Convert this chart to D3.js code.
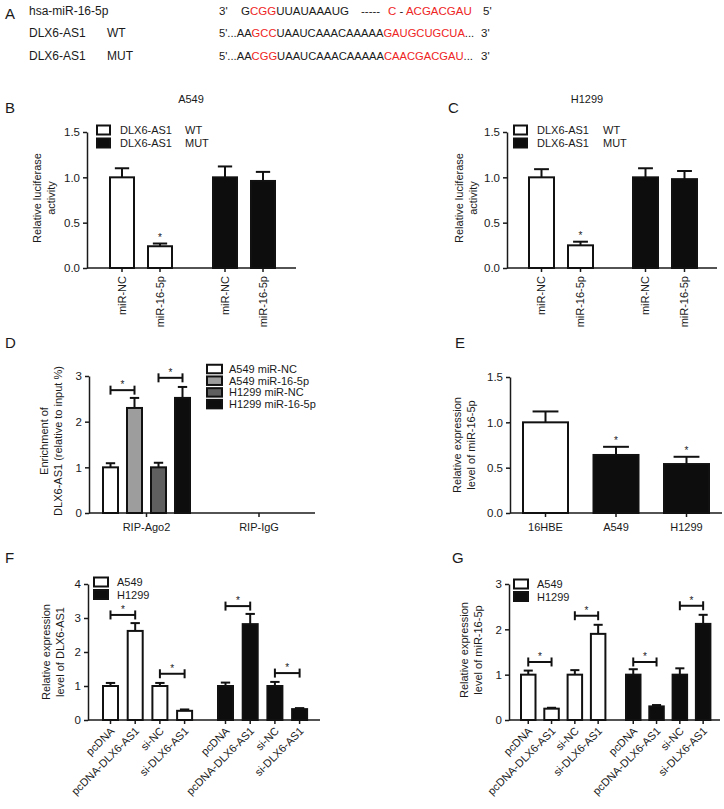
<!DOCTYPE html>
<html>
<head>
<meta charset="utf-8">
<script src="https://cdn.jsdelivr.net/npm/d3@7"></script>
<style>
body { margin: 0; background: #fff; }
text { font-family: 'Liberation Sans', Arial, Helvetica, sans-serif; fill: #1a1a1a; }
</style>
</head>
<body>
<div id="fig"></div>
<script>
const W = 724, H = 809;
const RED = "#ee2424";

// ---- panel A: sequences (pieces of [text, isRed]) ----
const aNames = [["hsa-miR-16-5p", ""], ["DLX6-AS1", "WT"], ["DLX6-AS1", "MUT"]];
const mirLeft = [["G", 0], ["CGG", 1], ["UUAUAAAUG", 0]];
const mirRight = [["C", 1], [" - ", 0], ["ACGACGAU", 1]];
const wtSeq = [["5'...AA", 0], ["GCC", 1], ["UAAUCAAACAAAAA", 0], ["GAUGCUGCUA", 1], ["...", 0]];
const mutSeq = [["5'...AA", 0], ["CGG", 1], ["UAAUCAAACAAAAA", 0], ["CAACGACGAU", 1], ["...", 0]];

// ---- panel B / C: luciferase ----
const lucCats = ["miR-NC", "miR-16-5p", "miR-NC", "miR-16-5p"];
const lucGroups = ["WT", "MUT"];
const bVals = [1.0, 0.24, 1.0, 0.96];
const bErr = [1.10, 0.27, 1.12, 1.06];
const cVals = [1.0, 0.25, 1.0, 0.98];
const cErr = [1.09, 0.29, 1.10, 1.07];
const lucStars = [0, 1, 0, 0];
const lucTicks = [0, 0.5, 1.0, 1.5];

// ---- panel D: RIP ----
const ripGroups = ["RIP-Ago2", "RIP-IgG"];
const ripSeries = ["A549 miR-NC", "A549 miR-16-5p", "H1299 miR-NC", "H1299 miR-16-5p"];
const dVals = [1.0, 2.3, 1.0, 2.52];
const dErr = [1.09, 2.52, 1.10, 2.76];
const dBrackets = [[0, 1, 2.69], [2, 3, 2.96]];
const dTicks = [0, 1, 2, 3];

// ---- panel E ----
const eCats = ["16HBE", "A549", "H1299"];
const eVals = [1.0, 0.64, 0.54];
const eErr = [1.12, 0.73, 0.62];
const eStars = [0, 1, 1];

// ---- panel F / G ----
const trCats = ["pcDNA", "pcDNA-DLX6-AS1", "si-NC", "si-DLX6-AS1", "pcDNA", "pcDNA-DLX6-AS1", "si-NC", "si-DLX6-AS1"];
const trGroups = ["A549", "H1299"];
const fVals = [1.0, 2.62, 1.0, 0.27, 1.0, 2.82, 1.0, 0.32];
const fErr = [1.09, 2.85, 1.09, 0.31, 1.10, 3.12, 1.12, 0.35];
const fBrackets = [[0, 1, 3.09], [2, 3, 1.36], [4, 5, 3.35], [6, 7, 1.38]];
const fTicks = [0, 1, 2, 3, 4];
const gVals = [1.0, 0.25, 1.0, 1.9, 1.0, 0.30, 1.0, 2.12];
const gErr = [1.09, 0.27, 1.10, 2.10, 1.12, 0.33, 1.14, 2.32];
const gBrackets = [[0, 1, 1.28], [2, 3, 2.30], [4, 5, 1.28], [6, 7, 2.52]];
const gTicks = [0, 1, 2, 3];

const svg = d3.select("#fig").append("svg").attr("width", W).attr("height", H);

// panel letters
[["A", 5, 19], ["B", 5, 113], ["C", 448, 113], ["D", 5, 348], ["E", 455, 348], ["F", 5, 563], ["G", 452, 563]]
  .forEach(d => svg.append("text").attr("x", d[1]).attr("y", d[2]).attr("font-size", "15px").text(d[0]));

// ---- draw panel A ----
const aY = [15, 37, 60];
aNames.forEach((n, i) => {
  svg.append("text").attr("x", 29).attr("y", aY[i]).attr("font-size", "12px").text(n[0]);
  if (n[1]) svg.append("text").attr("x", 107).attr("y", aY[i]).attr("font-size", "12px").text(n[1]);
});
function seqText(x, y, pieces, size) {
  const t = svg.append("text").attr("x", x).attr("y", y).attr("font-size", size);
  pieces.forEach(p => t.append("tspan").style("fill", p[1] ? RED : "#1a1a1a").text(p[0]));
}
svg.append("text").attr("x", 219).attr("y", aY[0]).attr("font-size", "11.5px").text("3'");
seqText(241, aY[0], mirLeft, "11.5px");
svg.append("text").attr("x", 361).attr("y", aY[0]).attr("font-size", "11.5px").text("-----");
seqText(388, aY[0], mirRight, "11.5px");
svg.append("text").attr("x", 483).attr("y", aY[0]).attr("font-size", "11.5px").text("5'");
seqText(219, aY[1], wtSeq, "11.2px");
seqText(219, aY[2], mutSeq, "11.2px");
svg.append("text").attr("x", 481).attr("y", aY[1]).attr("font-size", "11.5px").text("3'");
svg.append("text").attr("x", 481).attr("y", aY[2]).attr("font-size", "11.5px").text("3'");

// ---- generic bar panel ----
function barPanel(p) {
  const g = svg.append("g");
  const y = d3.scaleLinear().domain([0, p.yMax]).range([p.y0, p.yTop]);
  const per = p.perGroup;
  const gw = p.barStep * (per - 1) + p.barW;
  const gStep = p.gStep || gw;
  const outer = d3.scaleBand().domain(p.groups)
    .range([p.gStart, p.gStart + gStep * (p.groups.length - 1) + gw])
    .paddingInner((gStep - gw) / gStep).paddingOuter(0);
  const inner = d3.scaleBand().domain(d3.range(per)).range([0, gw])
    .paddingInner(per > 1 ? (p.barStep - p.barW) / p.barStep : 0).paddingOuter(0);

  const items = p.values.map((v, i) => {
    const grp = p.groups[Math.floor(i / per)];
    const x = outer(grp) + inner(i % per);
    return { v: v, e: p.errs[i], x: x, cx: x + inner.bandwidth() / 2,
      fill: p.fills[i], label: p.cats ? p.cats[i] : null, star: p.stars ? p.stars[i] : 0 };
  });
  const bw = inner.bandwidth();

  // y axis
  const ya = g.append("g").attr("transform", `translate(${p.x0},0)`)
    .call(d3.axisLeft(y).tickValues(p.ticks).tickFormat(p.fmt).tickSize(4).tickSizeOuter(0).tickPadding(3));
  ya.select(".domain").attr("stroke", "#1a1a1a").attr("stroke-width", 1.5);
  ya.selectAll(".tick line").attr("stroke", "#1a1a1a").attr("stroke-width", 1.5);
  ya.selectAll(".tick text").attr("font-size", "11.5px").attr("font-family", null).style("fill", "#1a1a1a");

  // x axis line + ticks
  g.append("line").attr("x1", p.x0).attr("x2", p.x1).attr("y1", p.y0).attr("y2", p.y0)
    .attr("stroke", "#1a1a1a").attr("stroke-width", 1.5);
  const tickXs = p.groupTicks ? p.groups.map(k => outer(k) + outer.bandwidth() / 2) : items.map(d => d.cx);
  g.selectAll(".xt").data(tickXs).enter().append("line")
    .attr("x1", d => d).attr("x2", d => d).attr("y1", p.y0).attr("y2", p.y0 + 4)
    .attr("stroke", "#1a1a1a").attr("stroke-width", 1.5);

  // error bars
  const cap = bw * 0.55;
  items.forEach(d => {
    g.append("line").attr("x1", d.cx).attr("x2", d.cx).attr("y1", y(d.v)).attr("y2", y(d.e))
      .attr("stroke", "#111").attr("stroke-width", 2);
    g.append("line").attr("x1", d.cx - cap / 2).attr("x2", d.cx + cap / 2).attr("y1", y(d.e)).attr("y2", y(d.e))
      .attr("stroke", "#111").attr("stroke-width", 2);
    if (d.star) g.append("text").attr("x", d.cx).attr("y", y(d.e) - 3).attr("text-anchor", "middle")
      .attr("font-size", "10px").text("*");
  });

  // bars
  g.selectAll(".bar").data(items).enter().append("rect")
    .attr("x", d => d.x + 1).attr("y", d => y(d.v))
    .attr("width", bw - 2).attr("height", d => p.y0 - y(d.v))
    .attr("fill", d => d.fill).attr("stroke", "#111").attr("stroke-width", 2);

  // brackets
  (p.brackets || []).forEach(b => {
    const xa = items[b[0]].cx, xb = items[b[1]].cx, yy = y(b[2]);
    g.append("line").attr("x1", xa).attr("x2", xb).attr("y1", yy).attr("y2", yy).attr("stroke", "#111").attr("stroke-width", 2);
    [xa, xb].forEach(xx => g.append("line").attr("x1", xx).attr("x2", xx).attr("y1", yy - 4.5).attr("y2", yy + 4.5)
      .attr("stroke", "#111").attr("stroke-width", 2));
    g.append("text").attr("x", (xa + xb) / 2).attr("y", yy - 2).attr("text-anchor", "middle").attr("font-size", "10px").text("*");
  });

  // x labels
  if (p.labelMode === "vertical") {
    items.forEach(d => g.append("text").attr("transform", `translate(${d.cx},${p.y0 + 8}) rotate(-90)`)
      .attr("dy", "0.35em").attr("text-anchor", "end").attr("font-size", "11px").text(d.label));
  } else if (p.labelMode === "diag") {
    items.forEach(d => g.append("text").attr("transform", `translate(${d.cx + 2},${p.y0 + 9}) rotate(-45)`)
      .attr("dy", "0.35em").attr("text-anchor", "end").attr("font-size", "11px").text(d.label));
  } else if (p.labelMode === "flat") {
    items.forEach(d => g.append("text").attr("x", d.cx).attr("y", p.y0 + 18)
      .attr("text-anchor", "middle").attr("font-size", "11px").text(d.label));
  } else if (p.labelMode === "group") {
    p.groups.forEach(k => g.append("text").attr("x", outer(k) + outer.bandwidth() / 2).attr("y", p.y0 + 18)
      .attr("text-anchor", "middle").attr("font-size", "11px").text(k));
  }

  // y title (two lines, rotated)
  p.yTitle.forEach((t, i) => g.append("text")
    .attr("transform", `translate(${p.yTitleX[i]},${p.yTitleY}) rotate(-90)`)
    .attr("text-anchor", "middle").attr("font-size", "11px").text(t));

  // panel title
  if (p.title) g.append("text").attr("x", p.title[1]).attr("y", p.title[2]).attr("text-anchor", "middle")
    .attr("font-size", "11px").text(p.title[0]);

  // legend
  const L = p.legend;
  L.items.forEach((it, i) => {
    const yy = L.y + i * L.step;
    g.append("rect").attr("x", L.x).attr("y", yy - L.h / 2).attr("width", L.w).attr("height", L.h)
      .attr("fill", it[1]).attr("stroke", "#111").attr("stroke-width", 2);
    g.append("text").attr("x", L.tx).attr("y", yy + 4).attr("font-size", "11px").text(it[0]);
    if (it[2]) g.append("text").attr("x", L.tx + L.gap).attr("y", yy + 4).attr("font-size", "11px").text(it[2]);
  });
}

const WHITE = "#ffffff", BLACK = "#0d0d0d";
const fmt1 = d3.format(".1f"), fmt0 = d3.format("d");
const lucFills = [WHITE, WHITE, BLACK, BLACK];
const trFills = trCats.map((c, i) => i < 4 ? WHITE : BLACK);

// B
barPanel({ x0: 87, x1: 296, y0: 268, yTop: 132, yMax: 1.5, ticks: lucTicks, fmt: fmt1,
  groups: lucGroups, perGroup: 2, gStart: 109, gStep: 103, barW: 26, barStep: 38,
  values: bVals, errs: bErr, fills: lucFills, cats: lucCats, stars: lucStars, labelMode: "vertical",
  yTitle: ["Relative luciferase", "activity"], yTitleX: [41, 55], yTitleY: 198,
  title: ["A549", 191, 103],
  legend: { x: 97, y: 130, step: 13, w: 13, h: 9, tx: 120, gap: 65,
    items: [["DLX6-AS1", WHITE, "WT"], ["DLX6-AS1", BLACK, "MUT"]] } });

// C
barPanel({ x0: 507, x1: 717, y0: 268, yTop: 132, yMax: 1.5, ticks: lucTicks, fmt: fmt1,
  groups: lucGroups, perGroup: 2, gStart: 528, gStep: 104, barW: 27, barStep: 39,
  values: cVals, errs: cErr, fills: lucFills, cats: lucCats, stars: lucStars, labelMode: "vertical",
  yTitle: ["Relative luciferase", "activity"], yTitleX: [463, 477], yTitleY: 198,
  title: ["H1299", 587, 103],
  legend: { x: 514, y: 130, step: 13, w: 13, h: 9, tx: 537, gap: 66,
    items: [["DLX6-AS1", WHITE, "WT"], ["DLX6-AS1", BLACK, "MUT"]] } });

// D
barPanel({ x0: 89, x1: 315, y0: 513, yTop: 376, yMax: 3, ticks: dTicks, fmt: fmt0,
  groups: ripGroups, perGroup: 4, gStart: 102, gStep: 112.5, barW: 17, barStep: 24,
  values: dVals, errs: dErr, fills: [WHITE, "#9d9d9d", "#5f5f5f", BLACK], brackets: dBrackets,
  groupTicks: true, labelMode: "group",
  yTitle: ["Enrichment of", "DLX6-AS1 (relative to input %)"], yTitleX: [48, 62], yTitleY: 441,
  legend: { x: 207, y: 369, step: 11.7, w: 15, h: 8.5, tx: 229,
    items: ripSeries.map((s, i) => [s, [WHITE, "#9d9d9d", "#5f5f5f", BLACK][i]]) } });

// E
barPanel({ x0: 510, x1: 722, y0: 513, yTop: 377, yMax: 1.5, ticks: lucTicks, fmt: fmt1,
  groups: ["all"], perGroup: 3, gStart: 522, barW: 47, barStep: 70.5,
  values: eVals, errs: eErr, fills: [WHITE, BLACK, BLACK], cats: eCats, stars: eStars, labelMode: "flat",
  yTitle: ["Relative expression", "level of miR-16-5p"], yTitleX: [461, 475], yTitleY: 445,
  legend: { x: 0, y: 0, step: 0, w: 0, h: 0, tx: 0, items: [] } });

// F
barPanel({ x0: 88, x1: 320, y0: 720, yTop: 584, yMax: 4, ticks: fTicks, fmt: fmt0,
  groups: trGroups, perGroup: 4, gStart: 102, gStep: 115, barW: 17, barStep: 24.7,
  values: fVals, errs: fErr, fills: trFills, cats: trCats, brackets: fBrackets, labelMode: "diag",
  yTitle: ["Relative expression", "level of DLX6-AS1"], yTitleX: [50, 64], yTitleY: 652,
  legend: { x: 94, y: 582, step: 12.5, w: 14, h: 9, tx: 117,
    items: [["A549", WHITE], ["H1299", BLACK]] } });

// G
barPanel({ x0: 509, x1: 720, y0: 720, yTop: 584, yMax: 3, ticks: gTicks, fmt: fmt0,
  groups: trGroups, perGroup: 4, gStart: 520, gStep: 105, barW: 16.5, barStep: 23.3,
  values: gVals, errs: gErr, fills: trFills, cats: trCats, brackets: gBrackets, labelMode: "diag",
  yTitle: ["Relative expression", "level of miR-16-5p"], yTitleX: [468, 482], yTitleY: 650,
  legend: { x: 514, y: 584, step: 12.5, w: 14, h: 9, tx: 537,
    items: [["A549", WHITE], ["H1299", BLACK]] } });
</script>
</body>
</html>
